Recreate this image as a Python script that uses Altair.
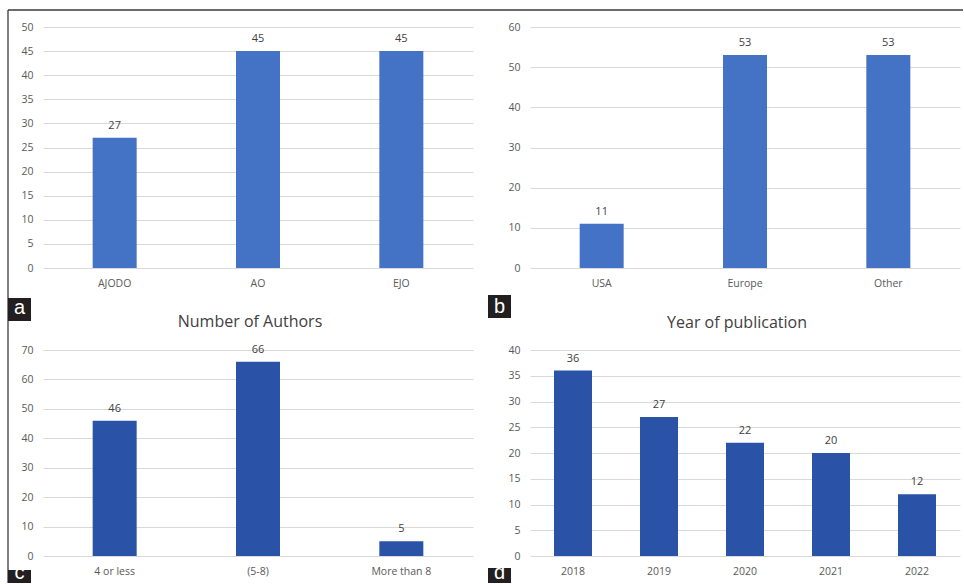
import altair as alt
import pandas as pd

# ---- data ----
journal_cats = ["AJODO", "AO", "EJO"]
journal_vals = [27, 45, 45]
region_cats = ["USA", "Europe", "Other"]
region_vals = [11, 53, 53]
author_cats = ["4 or less", "(5-8)", "More than 8"]
author_vals = [46, 66, 5]
year_cats = ["2018", "2019", "2020", "2021", "2022"]
year_vals = [36, 27, 22, 20, 12]

ticks_a = [0, 5, 10, 15, 20, 25, 30, 35, 40, 45, 50]
ticks_b = [0, 10, 20, 30, 40, 50, 60]
ticks_c = [0, 10, 20, 30, 40, 50, 60, 70]
ticks_d = [0, 5, 10, 15, 20, 25, 30, 35, 40]

title_c = "Number of Authors"
title_d = "Year of publication"
panel_letters = ["a", "b", "c", "d"]

# ---- styles ----
FONT = "Open Sans"
LIGHT = "#4472C4"
DARK = "#2A52A6"
W = 430
H_TOP = 241
H_BOT = 206
one = pd.DataFrame({"k": [0]})


def bars(cats, vals, ticks, color, bar_w):
    df = pd.DataFrame({"cat": cats, "val": vals})
    x = alt.X("cat:N", sort=cats, title=None, scale=alt.Scale(padding=0),
              axis=alt.Axis(labelAngle=0, domain=False, ticks=False, tickSize=0,
                            labelPadding=10, labelFont=FONT, labelFontSize=10.5,
                            labelColor="#595959", grid=False))
    y = alt.Y("val:Q", title=None,
              scale=alt.Scale(domain=[0, ticks[-1]], nice=False),
              axis=alt.Axis(values=ticks, grid=True, gridColor="#d9d9d9", gridWidth=1,
                            domain=False, ticks=False, tickSize=0, labelPadding=10,
                            labelFont=FONT, labelFontSize=10.5, labelColor="#595959"))
    base = alt.Chart(df).encode(x=x, y=y)
    b = base.mark_bar(size=bar_w, color=color)
    t = base.mark_text(baseline="alphabetic", dy=-9, font=FONT, fontSize=11,
                       color="#404040").encode(text="val:Q")
    return [b, t]


def rule(x1, x2, y1, y2):
    return alt.Chart(one).mark_rule(color="#3a3a3a", strokeWidth=1.3).encode(
        x=alt.value(x1), x2=alt.value(x2), y=alt.value(y1), y2=alt.value(y2))


def box(x1, x2, y1, y2, letter, ybase):
    rect = alt.Chart(one).mark_rect(color="#231f20").encode(
        x=alt.value(x1), x2=alt.value(x2), y=alt.value(y1), y2=alt.value(y2))
    txt = alt.Chart(one).mark_text(text=letter, font="Liberation Sans", fontSize=20,
                                   color="white", align="center",
                                   baseline="alphabetic").encode(
        x=alt.value((x1 + x2) / 2), y=alt.value(ybase))
    return [rect, txt]


def title(text):
    return alt.TitleParams(text, font=FONT, fontSize=16, color="#404040",
                           fontWeight="normal", dx=-8, offset=14)


pa = alt.layer(
    *bars(journal_cats, journal_vals, ticks_a, LIGHT, 44),
    rule(-35, -35, -17, 556),
    rule(-35, 920, -17, -17),
    *box(-35, -12, 271, 294, panel_letters[0], 287),
).properties(width=W, height=H_TOP)

pb = alt.layer(
    *bars(region_cats, region_vals, ticks_b, LIGHT, 44),
    *box(-42, -19, 268, 291, panel_letters[1], 286),
).properties(width=W, height=H_TOP)

pc = alt.layer(
    *bars(author_cats, author_vals, ticks_c, DARK, 44),
    *box(-35, -12, 220, 233, panel_letters[2], 229),
).properties(width=W, height=H_BOT, title=title(title_c))

pd_ = alt.layer(
    *bars(year_cats, year_vals, ticks_d, DARK, 38),
    *box(-42, -19, 218, 233, panel_letters[3], 229),
).properties(width=W, height=H_BOT, title=title(title_d))

chart = alt.concat(
    pa, pb, pc, pd_, columns=2,
    spacing={"row": 82, "column": 57},
    bounds="flush",
    padding={"left": 7, "top": 9, "right": 0, "bottom": 0},
).configure_view(strokeWidth=0)

chart.save("out.html", embed_options={"renderer": "svg", "actions": False})
